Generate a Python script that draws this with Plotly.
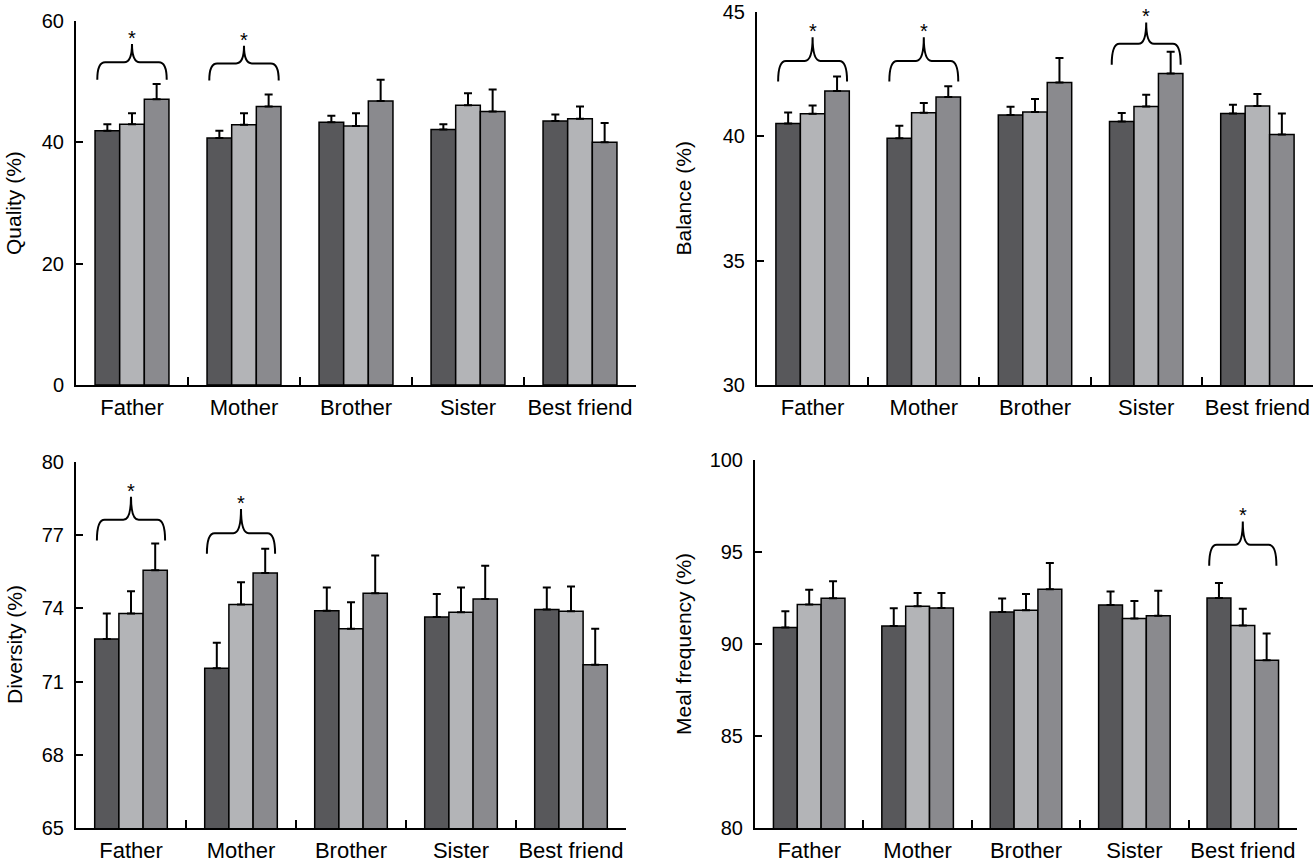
import plotly.graph_objects as go

# categories shared by all four panels
categories = ["Father", "Mother", "Brother", "Sister", "Best friend"]

# Quality (%)
quality_dark = [41.9, 40.7, 43.3, 42.1, 43.5]
quality_dark_err = [1.1, 1.2, 1.1, 0.9, 1.1]
quality_light = [43.0, 42.9, 42.7, 46.1, 43.9]
quality_light_err = [1.8, 1.9, 2.1, 2.0, 2.0]
quality_mid = [47.1, 45.9, 46.8, 45.1, 40.0]
quality_mid_err = [2.5, 2.0, 3.5, 3.6, 3.2]

# Balance (%)
balance_dark = [40.52, 39.92, 40.86, 40.60, 40.92]
balance_dark_err = [0.44, 0.51, 0.33, 0.34, 0.35]
balance_light = [40.91, 40.95, 40.98, 41.20, 41.22]
balance_light_err = [0.33, 0.39, 0.52, 0.47, 0.48]
balance_mid = [41.82, 41.58, 42.16, 42.53, 40.07]
balance_mid_err = [0.59, 0.43, 0.99, 0.87, 0.85]

# Diversity (%)
diversity_dark = [72.75, 71.55, 73.90, 73.65, 73.95]
diversity_dark_err = [1.04, 1.04, 0.96, 0.94, 0.91]
diversity_light = [73.79, 74.16, 73.17, 73.84, 73.88]
diversity_light_err = [0.91, 0.91, 1.08, 1.02, 1.02]
diversity_mid = [75.56, 75.45, 74.62, 74.39, 71.69]
diversity_mid_err = [1.10, 0.99, 1.55, 1.36, 1.48]

# Meal frequency (%)
meal_dark = [90.89, 90.98, 91.74, 92.12, 92.50]
meal_dark_err = [0.89, 0.96, 0.73, 0.74, 0.82]
meal_light = [92.14, 92.05, 91.83, 91.38, 91.00]
meal_light_err = [0.81, 0.72, 0.89, 0.96, 0.91]
meal_mid = [92.48, 91.96, 92.97, 91.53, 89.12]
meal_mid_err = [0.93, 0.81, 1.43, 1.37, 1.45]

# significance braces: category, end y, bar y, peak y
quality_sig = [("Father", 50.3, 53.2, 56.2), ("Mother", 50.2, 53.0, 55.9)]
balance_sig = [("Father", 42.21, 43.03, 43.98), ("Mother", 42.21, 43.03, 43.98),
               ("Sister", 42.88, 43.72, 44.58)]
diversity_sig = [("Father", 76.78, 77.63, 78.58), ("Mother", 76.24, 77.08, 78.07)]
meal_sig = [("Best friend", 94.25, 95.39, 96.66)]

colors = ["#58585b", "#b3b4b7", "#8a8a8e"]
W, H = 1314, 862
FONT = "Liberation Sans, Arial, Helvetica, sans-serif"

# panel boxes in pixels: left, right, top, bottom; tx = x of the y title
panels = [
    dict(title="Quality (%)", series=[(quality_dark, quality_dark_err), (quality_light, quality_light_err), (quality_mid, quality_mid_err)],
         sig=quality_sig, yrange=[0, 60], dtick=20, box=(76, 636, 21, 385), tx=14),
    dict(title="Balance (%)", series=[(balance_dark, balance_dark_err), (balance_light, balance_light_err), (balance_mid, balance_mid_err)],
         sig=balance_sig, yrange=[30, 45], dtick=5, box=(757, 1313, 12, 385), tx=683),
    dict(title="Diversity (%)", series=[(diversity_dark, diversity_dark_err), (diversity_light, diversity_light_err), (diversity_mid, diversity_mid_err)],
         sig=diversity_sig, yrange=[65, 80], dtick=3, box=(76, 626, 462, 828), tx=14),
    dict(title="Meal frequency (%)", series=[(meal_dark, meal_dark_err), (meal_light, meal_light_err), (meal_mid, meal_mid_err)],
         sig=meal_sig, yrange=[80, 100], dtick=5, box=(755, 1297, 460, 828), tx=683),
]


def px_x(v):
    return v / W


def px_y(v):
    return 1 - v / H


fig = go.Figure()
shapes = []
annotations = []
layout_axes = {}
cat_idx = {c: k for k, c in enumerate(categories)}

for i, p in enumerate(panels, start=1):
    sfx = "" if i == 1 else str(i)
    xref, yref = "x" + sfx, "y" + sfx
    for (vals, errs), col in zip(p["series"], colors):
        fig.add_trace(go.Bar(
            x=categories, y=vals, xaxis=xref, yaxis=yref,
            marker=dict(color=col, line=dict(color="black", width=1.5)),
            error_y=dict(type="data", array=errs, arrayminus=[0] * len(errs), symmetric=False,
                         color="black", thickness=2, width=4),
            showlegend=False,
        ))
    x0, x1, top, bottom = p["box"]
    layout_axes["xaxis" + sfx] = dict(
        domain=[px_x(x0), px_x(x1)], anchor=yref, type="category", automargin=False,
        range=[-0.5, len(categories) - 0.5], tickangle=0,
        showline=True, linecolor="black", linewidth=2,
        ticks="inside", tickson="boundaries", ticklen=8, tickwidth=2, tickcolor="black",
        tickfont=dict(size=22, color="black", family=FONT), ticklabelstandoff=2,
        showgrid=False, zeroline=False, fixedrange=True,
    )
    layout_axes["yaxis" + sfx] = dict(
        domain=[px_y(bottom), px_y(top)], anchor=xref, range=p["yrange"],
        tick0=p["yrange"][0], dtick=p["dtick"], automargin=False, ticklabeloverflow="allow",
        showline=True, linecolor="black", linewidth=2,
        ticks="inside", ticklen=7, tickwidth=2, tickcolor="black",
        tickfont=dict(size=20, color="black", family=FONT), ticklabelstandoff=6,
        showgrid=False, zeroline=False, fixedrange=True,
    )
    annotations.append(dict(
        text=p["title"], xref="paper", yref="paper", x=px_x(p["tx"]), y=px_y((top + bottom) / 2),
        textangle=-90, showarrow=False, font=dict(size=21, color="black", family=FONT),
        xanchor="center", yanchor="middle",
    ))
    # curly braces marking significant differences
    for cat, y_end, y_bar, y_peak in p["sig"]:
        c = cat_idx[cat]
        a, b, r = c - 0.31, c + 0.31, 0.07
        path = (f"M {a},{y_end} Q {a},{y_bar} {a + r},{y_bar} L {c - r},{y_bar} "
                f"Q {c},{y_bar} {c},{y_peak} Q {c},{y_bar} {c + r},{y_bar} "
                f"L {b - r},{y_bar} Q {b},{y_bar} {b},{y_end}")
        shapes.append(dict(type="path", path=path, xref=xref, yref=yref,
                           line=dict(color="black", width=2)))
        annotations.append(dict(
            text="*", x=c, y=y_peak, xref=xref, yref=yref, showarrow=False,
            font=dict(size=20, color="black", family=FONT), yanchor="bottom", yshift=-7,
        ))

fig.update_layout(
    width=W, height=H, margin=dict(l=0, r=0, t=0, b=0),
    paper_bgcolor="white", plot_bgcolor="white",
    barmode="group", bargap=0.34, bargroupgap=0,
    shapes=shapes, annotations=annotations,
    font=dict(family=FONT, color="black"),
    **layout_axes,
)

# drop the default 8px page margin so the figure fills the window exactly
fig.write_html("out.html", config={"displayModeBar": False},
               post_script="document.body.style.margin='0';document.body.style.overflow='hidden';")
